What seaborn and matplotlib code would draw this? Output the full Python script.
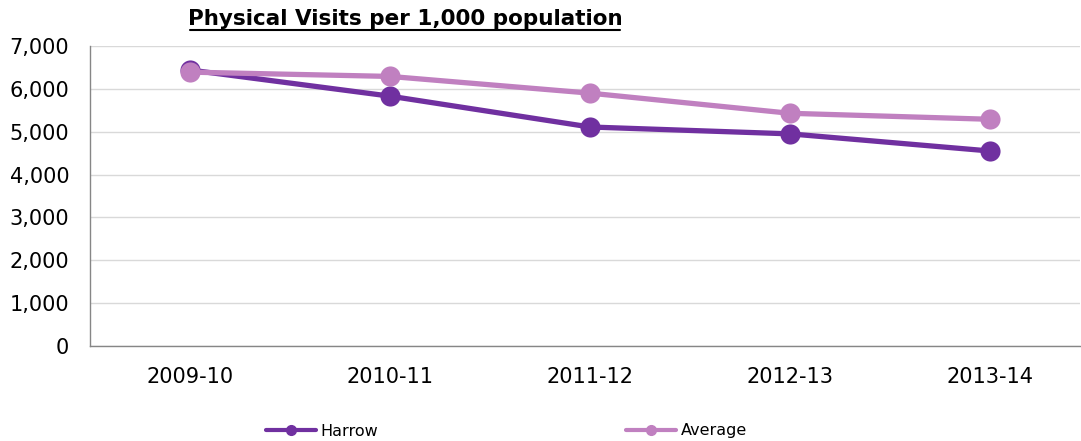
import numpy as np
import pandas as pd
import matplotlib
matplotlib.use('Agg')
import matplotlib.pyplot as plt
from matplotlib.lines import Line2D
import seaborn as sns

# Data
years = ['2009-10', '2010-11', '2011-12', '2012-13', '2013-14']
harrow = [6440, 5830, 5110, 4950, 4550]
average = [6390, 6290, 5900, 5430, 5290]

harrow_color = '#7030A0'
average_color = '#C080C0'

df = pd.DataFrame({
    'year': years * 2,
    'visits': harrow + average,
    'series': ['Harrow'] * len(years) + ['Average'] * len(years),
})
df['pos'] = list(range(len(years))) * 2

sns.set_style('white')
plt.rcParams['font.family'] = ['DejaVu Sans']
plt.rcParams['text.color'] = 'black'

fig = plt.figure(figsize=(10.81, 4.41), dpi=100)
ax = fig.add_axes([90 / 1081, 1 - 346 / 441, 990 / 1081, 300 / 441])

sns.lineplot(data=df, x='pos', y='visits', hue='series',
             palette={'Harrow': harrow_color, 'Average': average_color},
             hue_order=['Harrow', 'Average'], marker='o', markersize=14.5,
             markeredgewidth=0, linewidth=3.8, legend=False, ax=ax, zorder=3)

ax.set_ylim(0, 7000)
ax.set_xlim(-0.5, 4.45)
ax.set_yticks(np.arange(0, 7001, 1000))
ax.yaxis.set_major_formatter(matplotlib.ticker.FuncFormatter(lambda v, p: f'{int(v):,}'))
ax.set_xticks(range(len(years)))
ax.set_xticklabels(years)
ax.tick_params(axis='both', labelsize=15, length=0, colors='black')
ax.tick_params(axis='x', pad=15)
ax.tick_params(axis='y', pad=15)
ax.set_xlabel('')
ax.set_ylabel('')
ax.grid(axis='y', color='#D9D9D9', linewidth=1)
ax.set_axisbelow(True)
for s in ['top', 'right']:
    ax.spines[s].set_visible(False)
for s in ['left', 'bottom']:
    ax.spines[s].set_color('#868686')
    ax.spines[s].set_linewidth(1)

fig.text(405 / 1081, 1 - 19 / 441, 'Physical Visits per 1,000 population',
         ha='center', va='center', fontsize=15.5, fontweight='bold', color='black')
# underline under the title
fig.add_artist(Line2D([190 / 1081, 620 / 1081], [1 - 29.5 / 441, 1 - 29.5 / 441],
                      color='black', linewidth=1.5, transform=fig.transFigure))

# two separate legend entries spaced apart at the bottom
handles = [Line2D([], [], color=harrow_color, linewidth=3, marker='o', markersize=7),
           Line2D([], [], color=average_color, linewidth=3, marker='o', markersize=7)]
fig.legend([handles[0]], ['Harrow'], loc='center left',
           bbox_to_anchor=(252 / 1081, 1 - 431 / 441), frameon=False,
           fontsize=11.5, handlelength=3.1, handletextpad=0.3,
           labelcolor='black')
fig.legend([handles[1]], ['Average'], loc='center left',
           bbox_to_anchor=(612 / 1081, 1 - 431 / 441), frameon=False,
           fontsize=11.5, handlelength=3.1, handletextpad=0.3,
           labelcolor='black')

fig.savefig('out.png', dpi=100)
